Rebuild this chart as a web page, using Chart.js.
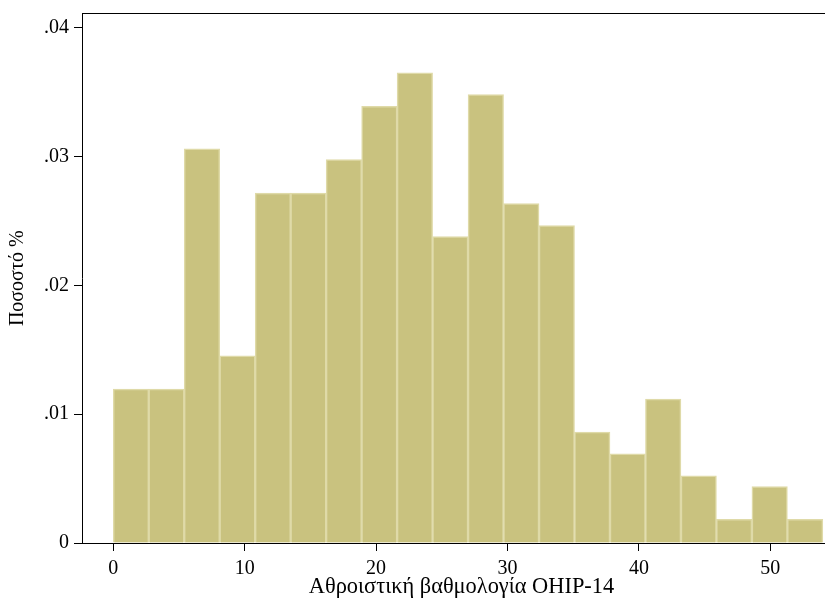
<!DOCTYPE html>
<html>
<head>
<meta charset="utf-8">
<script src="https://cdn.jsdelivr.net/npm/chart.js@4.4.1/dist/chart.umd.min.js"></script>
<style>
  html, body { margin: 0; padding: 0; background: #fff; overflow: hidden; }
  #wrap { width: 825px; height: 601px; overflow: hidden; position: relative; }
  #c { position: absolute; left: 0; top: 0; }
</style>
</head>
<body>
<div id="wrap"><canvas id="c" width="841" height="601"></canvas></div>
<script>
// Histogram bins (bin start, width 2.7) of OHIP-14 total score
const binStarts = [0, 2.7, 5.4, 8.1, 10.8, 13.5, 16.2, 18.9, 21.6, 24.3, 27.0, 29.7, 32.4, 35.1, 37.8, 40.5, 43.2, 45.9, 48.6, 51.3];
const binWidth = 2.7;
// Density values
const density = [0.01194, 0.01194, 0.03059, 0.01453, 0.02717, 0.02717, 0.02976, 0.0339, 0.0365, 0.02378,
                 0.03481, 0.02634, 0.02463, 0.0086, 0.00692, 0.01117, 0.00521, 0.00184, 0.00438, 0.00184];
const xTicks = [0, 10, 20, 30, 40, 50];
const yTicks = [0, 0.01, 0.02, 0.03, 0.04];
const yTickLabels = ['0', '.01', '.02', '.03', '.04'];
const xTitle = 'Αθροιστική βαθμολογία OHIP-14';
const yTitle = 'Ποσοστό %';

const points = binStarts.map((s, i) => ({ x: s + binWidth / 2, y: density[i] }));
const font = { family: "'Liberation Serif', 'DejaVu Serif', serif", size: 20 };
const X_MIN = -2.38, X_MAX = 55.38;

new Chart(document.getElementById('c'), {
  type: 'bar',
  data: {
    datasets: [{
      data: points,
      backgroundColor: '#C9C27F',
      borderColor: '#DFDAA8',
      borderWidth: 1.5,
      barPercentage: 1,
      categoryPercentage: 1,
      grouped: false
    }]
  },
  options: {
    responsive: false,
    animation: false,
    layout: { padding: { top: 13.5, left: 0, right: 0, bottom: 0 } },
    plugins: { legend: { display: false }, tooltip: { enabled: false } },
    scales: {
      x: {
        type: 'linear',
        offset: false,
        min: X_MIN,
        max: X_MAX,
        afterBuildTicks: s => { s.ticks = xTicks.map(v => ({ value: v })); },
        afterFit: s => { s.height = 58; s.paddingLeft = 0; s.paddingRight = 0; },
        grid: { offset: false, drawOnChartArea: false, drawTicks: true, tickLength: 8, color: '#000', lineWidth: 1 },
        border: { display: true, color: '#000', width: 1 },
        ticks: { color: '#000', font: font, padding: 6, maxRotation: 0, autoSkip: false },
        title: { display: true, text: xTitle, color: '#000', font: { family: font.family, size: 22.4 }, padding: { top: 0, bottom: 0 } }
      },
      x2: {
        type: 'linear',
        position: 'top',
        offset: false,
        min: X_MIN,
        max: X_MAX,
        afterFit: s => { s.height = 0; s.paddingLeft = 0; s.paddingRight = 0; },
        grid: { display: false },
        border: { display: true, color: '#000', width: 1 },
        ticks: { display: false }
      },
      y: {
        min: 0,
        max: 0.0411,
        afterBuildTicks: s => { s.ticks = yTicks.map(v => ({ value: v })); },
        afterFit: s => { s.width = 82; s.paddingTop = 0; s.paddingBottom = 0; },
        grid: { drawOnChartArea: false, drawTicks: true, tickLength: 8, color: '#000', lineWidth: 1 },
        border: { display: true, color: '#000', width: 1 },
        ticks: {
          color: '#000', font: font, padding: 5,
          callback: (v) => { const i = yTicks.indexOf(v); return i >= 0 ? yTickLabels[i] : ''; }
        },
        title: { display: true, text: yTitle, color: '#000', font: { family: font.family, size: 20 }, padding: { top: 6, bottom: 0 } }
      }
    }
  }
});
</script>
</body>
</html>
